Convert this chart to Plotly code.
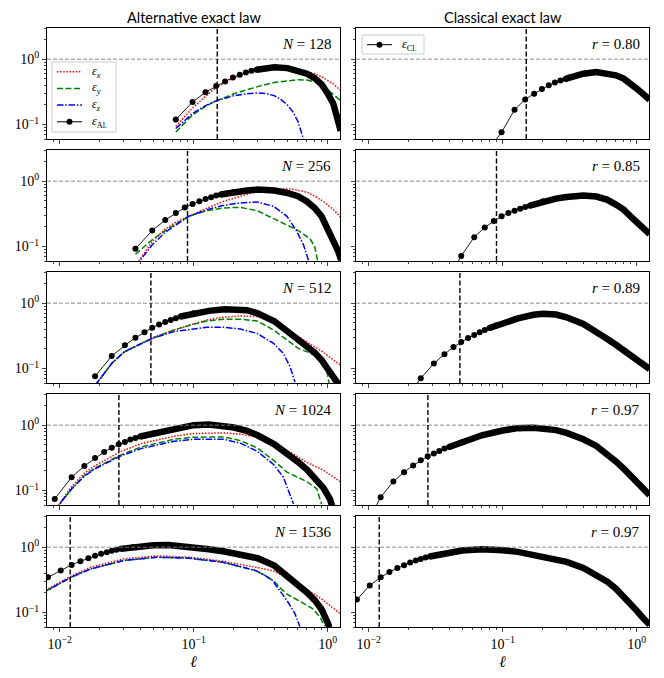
import plotly.graph_objects as go
from plotly.subplots import make_subplots

# ---------------- data ----------------
N_VALUES = [128, 256, 512, 1024, 1536]
R_VALUES = ["0.80", "0.85", "0.89", "0.97", "0.97"]
ELL_CUT = [0.15, 0.09, 0.048, 0.0277, 0.012]   # vertical dashed lines
N_DOTS = [10, 11, 11, 11, 12]                  # leading points drawn as separate dots

# N = 128
ell_al_128 = [0.0736, 0.0982, 0.1227, 0.1473, 0.1718, 0.1963, 0.2209, 0.2454, 0.2700, 0.2945,
              0.32, 0.35, 0.4, 0.5, 0.6, 0.7, 0.8, 0.9, 1.0, 1.1, 1.2, 1.25]
eps_al_128 = [0.119, 0.221, 0.311, 0.388, 0.457, 0.526, 0.577, 0.627, 0.664, 0.688,
              0.71, 0.73, 0.75, 0.73, 0.67, 0.60, 0.514, 0.41, 0.30, 0.21, 0.11, 0.08]
ell_x_128 = [0.0736, 0.0982, 0.1227, 0.1473, 0.2, 0.3, 0.4, 0.5, 0.6, 0.7, 0.8, 0.9, 1.0, 1.1, 1.25]
eps_x_128 = [0.094, 0.179, 0.27, 0.37, 0.52, 0.68, 0.75, 0.75, 0.72, 0.66, 0.60, 0.54, 0.48, 0.42, 0.33]
ell_y_128 = [0.0736, 0.0982, 0.1227, 0.1473, 0.2, 0.3, 0.4, 0.5, 0.6, 0.7, 0.8, 0.9, 1.0, 1.1, 1.25]
eps_y_128 = [0.077, 0.14, 0.19, 0.23, 0.296, 0.38, 0.44, 0.47, 0.485, 0.48, 0.45, 0.40, 0.34, 0.29, 0.23]
ell_z_128 = [0.0736, 0.0982, 0.1227, 0.1473, 0.2, 0.25, 0.3, 0.35, 0.4, 0.45, 0.5, 0.55, 0.6, 0.65, 0.7]
eps_z_128 = [0.087, 0.148, 0.195, 0.23, 0.276, 0.296, 0.304, 0.296, 0.276, 0.24, 0.2, 0.156, 0.112, 0.07, 0.04]
ell_cl_128 = [0.0736, 0.0982, 0.1227, 0.1473, 0.1718, 0.1963, 0.2209, 0.2454, 0.2700, 0.2945,
              0.32, 0.35, 0.4, 0.5, 0.6, 0.7, 0.8, 0.9, 1.0, 1.1, 1.25]
eps_cl_128 = [0.035, 0.076, 0.168, 0.242, 0.296, 0.35, 0.398, 0.438, 0.47, 0.498,
              0.53, 0.565, 0.60, 0.635, 0.616, 0.567, 0.505, 0.43, 0.354, 0.30, 0.24]

# N = 256
ell_al_256 = [0.0368, 0.0491, 0.0614, 0.0736, 0.0859, 0.0982, 0.1104, 0.1227, 0.1350, 0.1473, 0.1595,
              0.2, 0.25, 0.3, 0.35, 0.4, 0.5, 0.6, 0.7, 0.8, 0.9, 1.0, 1.1, 1.2, 1.26]
eps_al_256 = [0.092, 0.176, 0.254, 0.326, 0.394, 0.448, 0.492, 0.535, 0.567, 0.602, 0.624,
              0.685, 0.718, 0.744, 0.744, 0.718, 0.66, 0.588, 0.49, 0.389, 0.29, 0.19, 0.127, 0.084, 0.062]
ell_x_256 = [0.0368, 0.0491, 0.0614, 0.0736, 0.092, 0.126, 0.168, 0.223, 0.297, 0.395, 0.525, 0.698, 0.8, 0.929, 1.1, 1.25]
eps_x_256 = [0.05, 0.119, 0.185, 0.235, 0.29, 0.389, 0.492, 0.588, 0.70, 0.76, 0.762, 0.68, 0.59, 0.49, 0.37, 0.28]
ell_y_256 = [0.0368, 0.0491, 0.0614, 0.0736, 0.092, 0.126, 0.168, 0.223, 0.297, 0.395, 0.525, 0.59, 0.66, 0.74, 0.8, 0.85]
eps_y_256 = [0.076, 0.127, 0.175, 0.22, 0.29, 0.354, 0.389, 0.398, 0.354, 0.267, 0.203, 0.18, 0.155, 0.13, 0.1, 0.055]
ell_z_256 = [0.0368, 0.0491, 0.0614, 0.0736, 0.092, 0.126, 0.168, 0.223, 0.297, 0.395, 0.497, 0.589, 0.66, 0.718, 0.74]
eps_z_256 = [0.05, 0.106, 0.165, 0.215, 0.29, 0.367, 0.428, 0.464, 0.481, 0.412, 0.29, 0.17, 0.106, 0.062, 0.05]
ell_cl_256 = [0.0368, 0.0491, 0.0614, 0.0736, 0.0859, 0.0982, 0.1104, 0.1227, 0.1350, 0.1473, 0.1595,
              0.2, 0.25, 0.3, 0.35, 0.4, 0.5, 0.6, 0.7, 0.8, 0.9, 1.0, 1.1, 1.25]
eps_cl_256 = [0.025, 0.0718, 0.139, 0.196, 0.245, 0.29, 0.326, 0.354, 0.38, 0.403, 0.422,
              0.492, 0.541, 0.574, 0.595, 0.602, 0.581, 0.522, 0.438, 0.367, 0.29, 0.237, 0.196, 0.155]

# N = 512
ell_al_512 = [0.0184, 0.0245, 0.0307, 0.0368, 0.0430, 0.0491, 0.0552, 0.0614, 0.0675, 0.0736, 0.0798,
              0.1, 0.13, 0.17, 0.2, 0.25, 0.3, 0.4, 0.52, 0.68, 0.8, 0.9, 1.01, 1.13, 1.22]
eps_al_512 = [0.076, 0.155, 0.226, 0.296, 0.358, 0.422, 0.47, 0.516, 0.554, 0.588, 0.624,
              0.70, 0.762, 0.808, 0.808, 0.78, 0.70, 0.53, 0.35, 0.235, 0.175, 0.135, 0.097, 0.068, 0.055]
ell_x_512 = [0.0184, 0.0245, 0.0304, 0.0493, 0.0714, 0.126, 0.168, 0.223, 0.297, 0.385, 0.512, 0.68, 0.9, 1.13, 1.25]
eps_x_512 = [0.055, 0.12, 0.18, 0.296, 0.389, 0.554, 0.609, 0.638, 0.624, 0.53, 0.38, 0.263, 0.185, 0.13, 0.112]
ell_y_512 = [0.0184, 0.0245, 0.0304, 0.0493, 0.0714, 0.095, 0.126, 0.168, 0.223, 0.297, 0.395, 0.525,
             0.6, 0.75, 0.83, 0.9, 0.97, 1.01, 1.04]
eps_y_512 = [0.055, 0.12, 0.18, 0.29, 0.389, 0.464, 0.535, 0.567, 0.567, 0.535, 0.389, 0.257,
             0.205, 0.17, 0.155, 0.138, 0.11, 0.07, 0.05]
ell_z_512 = [0.0184, 0.0245, 0.0304, 0.0493, 0.0714, 0.095, 0.126, 0.168, 0.223, 0.297, 0.395, 0.467, 0.525, 0.57]
eps_z_512 = [0.055, 0.12, 0.18, 0.29, 0.367, 0.398, 0.428, 0.428, 0.403, 0.345, 0.242, 0.17, 0.106, 0.062]
ell_cl_512 = [0.0184, 0.0245, 0.0307, 0.0368, 0.0430, 0.0491, 0.0552, 0.0614, 0.0675, 0.0736, 0.0798,
              0.09, 0.1, 0.13, 0.17, 0.2, 0.25, 0.3, 0.4, 0.5, 0.6, 0.7, 0.8, 0.9, 1.0, 1.1, 1.25]
eps_cl_512 = [0.03, 0.071, 0.119, 0.166, 0.213, 0.254, 0.293, 0.326, 0.358, 0.389, 0.417,
              0.46, 0.50, 0.585, 0.665, 0.69, 0.67, 0.609, 0.481, 0.371, 0.286, 0.231, 0.187, 0.156, 0.136, 0.117, 0.098]

# N = 1024
ell_al_1024 = [0.0092, 0.0123, 0.0153, 0.0184, 0.0215, 0.0245, 0.0276, 0.0307, 0.0337, 0.0368, 0.0399,
               0.05, 0.07, 0.1, 0.13, 0.17, 0.2, 0.25, 0.3, 0.4, 0.5, 0.6, 0.7, 0.8, 0.93, 1.04, 1.08]
eps_al_1024 = [0.0744, 0.16, 0.237, 0.314, 0.389, 0.453, 0.51, 0.554, 0.602, 0.638, 0.67,
               0.744, 0.889, 1.0, 1.02, 0.977, 0.92, 0.82, 0.70, 0.51, 0.37, 0.275, 0.21, 0.16, 0.11, 0.074, 0.058]
ell_x_1024 = [0.0092, 0.0123, 0.0153, 0.0184, 0.0282, 0.0404, 0.0714, 0.1, 0.168, 0.223, 0.297, 0.395,
              0.556, 0.698, 0.929, 1.25]
eps_x_1024 = [0.05, 0.115, 0.185, 0.24, 0.389, 0.522, 0.677, 0.744, 0.762, 0.727, 0.661, 0.541,
              0.36, 0.27, 0.205, 0.135]
ell_y_1024 = [0.0092, 0.0123, 0.0153, 0.0184, 0.0282, 0.0404, 0.0714, 0.1, 0.168, 0.223, 0.297, 0.395,
              0.497, 0.589, 0.698, 0.83, 0.9]
eps_y_1024 = [0.05, 0.106, 0.17, 0.22, 0.345, 0.464, 0.609, 0.654, 0.661, 0.58, 0.45, 0.29,
              0.191, 0.16, 0.137, 0.106, 0.062]
ell_z_1024 = [0.0092, 0.0123, 0.0153, 0.0184, 0.0282, 0.0404, 0.0714, 0.1, 0.168, 0.223, 0.297, 0.395,
              0.467, 0.525, 0.556]
eps_z_1024 = [0.05, 0.106, 0.166, 0.215, 0.334, 0.438, 0.567, 0.609, 0.609, 0.53, 0.40, 0.25,
              0.16, 0.088, 0.062]
ell_cl_1024 = [0.0092, 0.0123, 0.0153, 0.0184, 0.0215, 0.0245, 0.0276, 0.0307, 0.0337, 0.0368, 0.0399,
               0.05, 0.07, 0.1, 0.13, 0.17, 0.2, 0.25, 0.3, 0.4, 0.5, 0.6, 0.7, 0.8, 0.9, 1.0, 1.1, 1.25]
eps_cl_1024 = [0.025, 0.079, 0.137, 0.191, 0.242, 0.29, 0.334, 0.367, 0.403, 0.438, 0.464,
               0.55, 0.70, 0.83, 0.90, 0.91, 0.90, 0.84, 0.762, 0.609, 0.481, 0.367, 0.279, 0.216, 0.166, 0.131, 0.106, 0.085]

# N = 1536
ell_al_1536 = [0.00614, 0.00818, 0.0102, 0.0123, 0.0143, 0.0164, 0.0184, 0.0204, 0.0225, 0.0245, 0.0266, 0.0286,
               0.035, 0.04, 0.05, 0.065, 0.08, 0.1, 0.13, 0.17, 0.2, 0.25, 0.3, 0.4, 0.5, 0.6, 0.7, 0.8, 0.9, 1.0, 1.03]
eps_al_1536 = [0.27, 0.345, 0.438, 0.535, 0.609, 0.677, 0.736, 0.79, 0.838, 0.879, 0.91, 0.942,
               1.0, 1.04, 1.07, 1.08, 1.05, 1.0, 0.93, 0.858, 0.808, 0.744, 0.677, 0.522, 0.367, 0.267, 0.203, 0.155, 0.112, 0.07, 0.059]
ell_x_1536 = [0.00614, 0.00818, 0.0121, 0.017, 0.03, 0.053, 0.0933, 0.165, 0.291, 0.387, 0.515, 0.68, 0.9, 1.08, 1.25]
eps_x_1536 = [0.18, 0.229, 0.358, 0.492, 0.662, 0.736, 0.702, 0.609, 0.492, 0.438, 0.334, 0.237, 0.161, 0.119, 0.095]
ell_y_1536 = [0.00614, 0.00818, 0.0121, 0.017, 0.03, 0.053, 0.0933, 0.165, 0.291, 0.34, 0.4, 0.45, 0.5, 0.6,
              0.77, 0.88, 0.95]
eps_y_1536 = [0.17, 0.221, 0.345, 0.464, 0.624, 0.702, 0.677, 0.588, 0.438, 0.37, 0.3, 0.23, 0.19, 0.155,
              0.115, 0.084, 0.062]
ell_z_1536 = [0.00614, 0.00818, 0.0121, 0.017, 0.03, 0.053, 0.0933, 0.165, 0.291, 0.34, 0.387, 0.45, 0.5, 0.57, 0.62]
eps_z_1536 = [0.17, 0.221, 0.345, 0.464, 0.624, 0.702, 0.677, 0.588, 0.438, 0.37, 0.31, 0.2, 0.15, 0.096, 0.061]
ell_cl_1536 = [0.00614, 0.00818, 0.0102, 0.0123, 0.0143, 0.0164, 0.0184, 0.0204, 0.0225, 0.0245, 0.0266, 0.0286,
               0.035, 0.04, 0.05, 0.07, 0.09, 0.1, 0.13, 0.17, 0.2, 0.25, 0.3, 0.4, 0.5, 0.6, 0.7, 0.8, 0.9, 1.0, 1.1, 1.25]
eps_cl_1536 = [0.09, 0.158, 0.26, 0.345, 0.417, 0.481, 0.529, 0.581, 0.624, 0.662, 0.693, 0.72,
               0.78, 0.828, 0.889, 0.932, 0.921, 0.899, 0.848, 0.771, 0.727, 0.654, 0.595, 0.481, 0.38, 0.30, 0.231, 0.178, 0.136, 0.107, 0.085, 0.065]

AL = [(ell_al_128, eps_al_128), (ell_al_256, eps_al_256), (ell_al_512, eps_al_512),
      (ell_al_1024, eps_al_1024), (ell_al_1536, eps_al_1536)]
EX = [(ell_x_128, eps_x_128), (ell_x_256, eps_x_256), (ell_x_512, eps_x_512),
      (ell_x_1024, eps_x_1024), (ell_x_1536, eps_x_1536)]
EY = [(ell_y_128, eps_y_128), (ell_y_256, eps_y_256), (ell_y_512, eps_y_512),
      (ell_y_1024, eps_y_1024), (ell_y_1536, eps_y_1536)]
EZ = [(ell_z_128, eps_z_128), (ell_z_256, eps_z_256), (ell_z_512, eps_z_512),
      (ell_z_1024, eps_z_1024), (ell_z_1536, eps_z_1536)]
CL = [(ell_cl_128, eps_cl_128), (ell_cl_256, eps_cl_256), (ell_cl_512, eps_cl_512),
      (ell_cl_1024, eps_cl_1024), (ell_cl_1536, eps_cl_1536)]

# ---------------- layout (pixels of the 664x678 window) ----------------
# the page body has an 8px margin, so the figure is 8px smaller and shifted
OFF = 8
W, H = 664 - OFF, 678 - OFF
COLS_PX = [(47, 340), (356, 649)]
ROWS_PX = [(28, 139), (150, 261), (272, 383), (394, 505), (516, 627)]
SERIF = "Liberation Serif"
SANS = "Lato"


def px_x(p):
    return (p - OFF) / W


def px_y(p):
    return 1 - (p - OFF) / H


fig = make_subplots(rows=5, cols=2)


def add_black(row, col, ell, eps, n_dots, name):
    fig.add_trace(go.Scatter(x=ell[:n_dots + 1], y=eps[:n_dots + 1], mode="lines+markers",
                             line=dict(color="black", width=0.9),
                             marker=dict(size=6, color="black"), name=name),
                  row=row, col=col)
    fig.add_trace(go.Scatter(x=ell[n_dots - 1:], y=eps[n_dots - 1:], mode="lines",
                             line=dict(color="black", width=6.5), name=name, hoverinfo="skip"),
                  row=row, col=col)


LABEL_X = "<i>ε</i><sub><i>x</i></sub>"
LABEL_Y = "<i>ε</i><sub><i>y</i></sub>"
LABEL_Z = "<i>ε</i><sub><i>z</i></sub>"
LABEL_AL = "<i>ε</i><sub>Al.</sub>"
LABEL_CL = "<i>ε</i><sub>Cl.</sub>"

styles = [(LABEL_X, "#ff0000", "1.5px,1.6px"),
          (LABEL_Y, "#008000", "6px,2.5px"),
          (LABEL_Z, "#0000ff", "6.5px,1.8px,1.5px,1.8px")]

for i in range(5):
    r = i + 1
    for (ell, eps), (name, color, dash) in zip([EX[i], EY[i], EZ[i]], styles):
        fig.add_trace(go.Scatter(x=ell, y=eps, mode="lines", name=name,
                                 line=dict(color=color, width=1.5, dash=dash)),
                      row=r, col=1)
    add_black(r, 1, AL[i][0], AL[i][1], N_DOTS[i], LABEL_AL)
    add_black(r, 2, CL[i][0], CL[i][1], N_DOTS[i], LABEL_CL)

    for c in (1, 2):
        fig.add_hline(y=1, row=r, col=c, line=dict(color="#808080", width=0.9, dash="4px,2px"))
        fig.add_vline(x=ELL_CUT[i], row=r, col=c, line=dict(color="black", width=1.4, dash="5px,2.5px"))

    fig.add_annotation(text="<i>N</i> = %d" % N_VALUES[i], xref="x domain", yref="y domain",
                       x=0.975, y=0.86, xanchor="right", yanchor="middle", showarrow=False,
                       font=dict(family=SERIF, size=15, color="black"), row=r, col=1)
    fig.add_annotation(text="<i>r</i> = %s" % R_VALUES[i], xref="x domain", yref="y domain",
                       x=0.975, y=0.86, xanchor="right", yanchor="middle", showarrow=False,
                       font=dict(family=SERIF, size=15, color="black"), row=r, col=2)

x_minor = [m * 10 ** e for e in (-3, -2, -1) for m in range(2, 10)]
y_minor = [m * 10 ** e for e in (-2, -1, 0) for m in range(2, 10)]

for i, (y0, y1) in enumerate(ROWS_PX):
    for j, (x0, x1) in enumerate(COLS_PX):
        fig.update_xaxes(row=i + 1, col=j + 1, type="log", range=[-2.094, 0.092],
                         domain=[px_x(x0), px_x(x1)],
                         tickvals=[0.01, 0.1, 1],
                         ticktext=["10<sup>−2</sup>", "10<sup>−1</sup>", "10<sup>0</sup>"],
                         showticklabels=(i == 4), ticks="outside", ticklen=4, tickwidth=1,
                         minor=dict(tickvals=x_minor, ticks="outside", ticklen=2, tickwidth=0.8,
                                    showgrid=False),
                         showline=True, linecolor="black", linewidth=1, mirror=True,
                         showgrid=False, zeroline=False,
                         tickfont=dict(family=SERIF, size=14, color="black"))
        fig.update_yaxes(row=i + 1, col=j + 1, type="log", range=[-1.2218, 0.4771],
                         domain=[px_y(y1), px_y(y0)],
                         tickvals=[0.1, 1],
                         ticktext=["10<sup>−1</sup>", "10<sup>0</sup>"],
                         showticklabels=(j == 0), ticks="outside", ticklen=4, tickwidth=1,
                         minor=dict(tickvals=y_minor, ticks="outside", ticklen=2, tickwidth=0.8,
                                    showgrid=False),
                         showline=True, linecolor="black", linewidth=1, mirror=True,
                         showgrid=False, zeroline=False,
                         tickfont=dict(family=SERIF, size=14, color="black"))

# column titles and x labels
for (x0, x1), title in zip(COLS_PX, ["Alternative exact law", "Classical exact law"]):
    xc = px_x((x0 + x1) / 2)
    fig.add_annotation(text=title, xref="paper", yref="paper", x=xc, y=1,
                       xanchor="center", yanchor="top", showarrow=False, borderpad=0,
                       font=dict(family=SANS, size=14.5, color="black"))
    fig.add_annotation(text="<i>ℓ</i>", xref="paper", yref="paper", x=xc, y=px_y(661),
                       xanchor="center", yanchor="middle", showarrow=False,
                       font=dict(family=SERIF, size=16, color="black"))


# matplotlib-style legends, drawn by hand so the rows stay compact
def draw_legend(box, entries):
    bx0, by0, bx1, by1 = box
    fig.add_shape(type="rect", xref="paper", yref="paper", layer="above",
                  x0=px_x(bx0), x1=px_x(bx1), y0=px_y(by1), y1=px_y(by0),
                  line=dict(color="#cccccc", width=1), fillcolor="rgba(255,255,255,0.85)")
    for k, (label, color, dash, dot) in enumerate(entries):
        yc = by0 + 9.7 + 16.7 * k
        sx0, sx1 = bx0 + 5, bx0 + 30
        fig.add_shape(type="line", xref="paper", yref="paper", layer="above",
                      x0=px_x(sx0), x1=px_x(sx1), y0=px_y(yc), y1=px_y(yc),
                      line=dict(color=color, width=1.5 if dash != "solid" else 1, dash=dash))
        if dot:
            xm = (sx0 + sx1) / 2
            fig.add_shape(type="circle", xref="paper", yref="paper", layer="above",
                          x0=px_x(xm - 3), x1=px_x(xm + 3), y0=px_y(yc + 3), y1=px_y(yc - 3),
                          fillcolor="black", line=dict(color="black", width=0))
        fig.add_annotation(text=label, xref="paper", yref="paper", x=px_x(bx0 + 38), y=px_y(yc),
                           xanchor="left", yanchor="middle", showarrow=False,
                           font=dict(family=SERIF, size=12, color="black"))


draw_legend((52, 62, 116, 132),
            [(name, color, dash, False) for name, color, dash in styles] +
            [(LABEL_AL, "black", "solid", True)])
draw_legend((362, 35, 424, 54), [(LABEL_CL, "black", "solid", True)])

fig.update_layout(
    width=W, height=H,
    margin=dict(l=0, r=0, t=0, b=0),
    paper_bgcolor="white", plot_bgcolor="white",
    showlegend=False,
)

fig.write_html("out.html")
